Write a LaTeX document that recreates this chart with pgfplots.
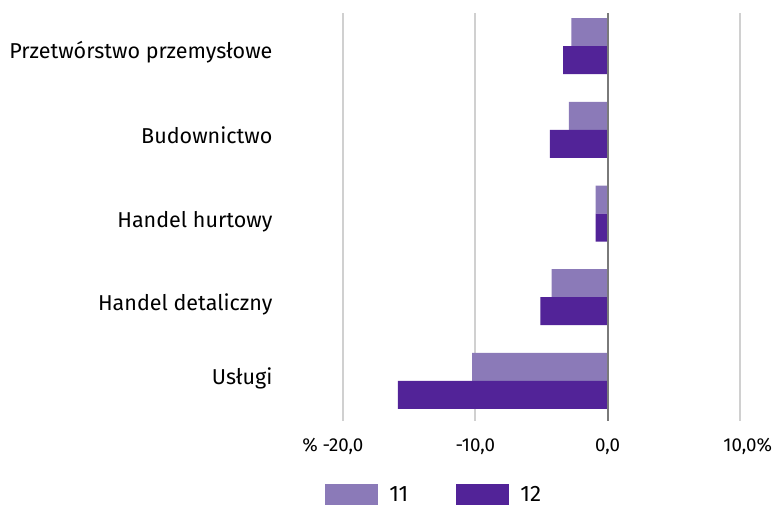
\documentclass[border=0pt]{standalone}
\usepackage{fontspec}
\setmainfont{Fira Sans}
\usepackage{pgfplots}
\pgfplotsset{compat=1.18}
\definecolor{cLight}{HTML}{8B7AB8}
\definecolor{cDark}{HTML}{522398}
\definecolor{cGrid}{HTML}{D0D0D0}
\definecolor{cZero}{HTML}{7A7A7A}
\begin{document}
\fontsize{10.8}{13}\selectfont
\begin{tikzpicture}
\useasboundingbox (0,0) rectangle (387bp,-252.5bp);
\begin{axis}[
  at={(171.5bp,-210.5bp)}, anchor=south west,
  scale only axis, width=198.5bp, height=204bp,
  xbar, clip=false,
  xmin=-20, xmax=10,
  ymin=-0.397, ymax=4.48, y dir=reverse,
  xtick={-20,-10,0,10},
  xticklabels={{\llap{\% }-20,0},{-10,0},{0,0},{10,0\rlap{\%}}},
  ytick={0.141,1.168,2.170,3.164,4.045},
  yticklabels={Przetwórstwo przemysłowe,Budownictwo,Handel hurtowy,Handel detaliczny,Usługi},
  axis line style={draw=none},
  major tick length=0pt,
  xmajorgrids, grid style={cGrid, line width=1bp},
  xticklabel style={font=\fontsize{9.4}{11}\selectfont, anchor=base, yshift=-15.35bp},
  yticklabel style={font=\fontsize{10.8}{13}\selectfont, anchor=base east, xshift=-31.5bp},
  bar width=0.335,
  legend columns=2,
  legend style={draw=none, fill=none, inner sep=0pt, at={(axis description cs:0,0)}, anchor=north west, xshift=-9bp, yshift=-30.3bp, font=\fontsize{11.2}{13}\selectfont,
    /tikz/every odd column/.append style={column sep=3.5bp},
    /tikz/every even column/.append style={column sep=22bp}},
  legend image code/.code={\fill[#1] (0bp,-5.65bp) rectangle (26.5bp,5.65bp);},
]
\addplot[fill=cLight, draw=none, bar shift=-0.1675] coordinates {(-2.75,0) (-2.93,1) (-0.91,2) (-4.24,3) (-10.25,4)};
\addplot[fill=cDark, draw=none, bar shift=0.1675] coordinates {(-3.36,0) (-4.37,1) (-0.91,2) (-5.08,3) (-15.86,4)};
\legend{11,12}
\draw[cZero, line width=1bp] (axis cs:0,-0.397) -- (axis cs:0,4.48);
\end{axis}
\end{tikzpicture}
\end{document}
